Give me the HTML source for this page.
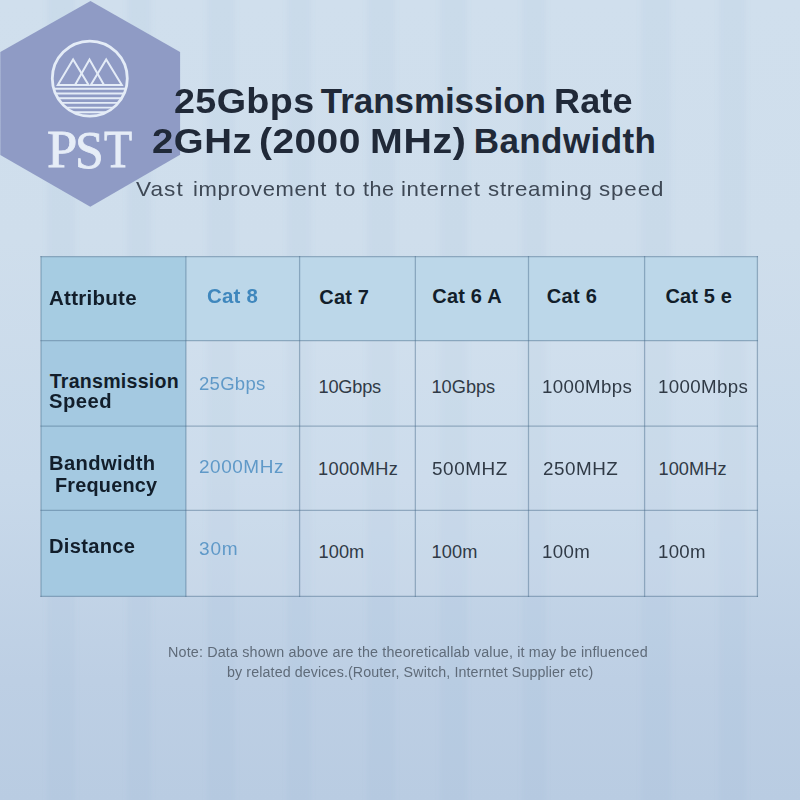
<!DOCTYPE html>
<html>
<head>
<meta charset="utf-8">
<title>25Gbps Transmission Rate</title>
<style>
html,body{margin:0;padding:0;}
body{width:800px;height:800px;overflow:hidden;position:relative;font-family:"Liberation Sans",sans-serif;background:#c8d9ea;}
#bg{position:absolute;left:0;top:0;width:800px;height:800px;
 background:linear-gradient(180deg,#d0dfed 0%,#cfdeec 30%,#c8d9ea 60%,#bdcfe4 85%,#b9cce2 100%);}
.t{position:absolute;white-space:nowrap;line-height:1;transform-origin:0 0;}
.ti{font-weight:bold;color:#202938;}
.su{color:#3e4855;}
.cell{position:absolute;}
.ln{position:absolute;background:#93a7ba;}
.h{font-weight:bold;color:#121e2b;}
.hb{font-weight:bold;color:#3f87bd;}
.v{color:#303a46;}
.vb{color:#5f99c8;}
.note{color:#5f6b79;}
.pst{font-family:'Liberation Serif',serif;color:#e6edf7;-webkit-text-stroke:0.8px #e6edf7;}
</style>
</head>
<body>
<div id="bg"></div>
<svg id="stripes" style="position:absolute;left:0;top:0" width="800" height="800" viewBox="0 0 800 800"><defs><filter id="bl" x="-5%" y="-5%" width="110%" height="110%"><feGaussianBlur stdDeviation="2.5 0"/></filter></defs><g fill="#7aa5cc" fill-opacity="0.075" filter="url(#bl)"><rect x="47" y="0" width="28" height="800"/><rect x="127" y="0" width="24" height="800"/><rect x="207" y="0" width="28" height="800"/><rect x="287" y="0" width="24" height="800"/><rect x="367" y="0" width="28" height="800"/><rect x="440" y="0" width="27" height="800"/><rect x="522" y="0" width="24" height="800"/><rect x="641" y="0" width="30" height="800"/><rect x="719" y="0" width="27" height="800"/></g></svg>

<!-- logo -->
<svg id="logo" style="position:absolute;left:0;top:0" width="200" height="220" viewBox="0 0 200 220">
  <polygon points="90.5,1.1 180.1,52 180.1,154.8 90.3,206.8 0.3,155 0.3,52" fill="#8f9bc5"/>
  <defs><clipPath id="cc"><circle cx="89.8" cy="78.6" r="37"/></clipPath></defs>
  <circle cx="89.8" cy="78.6" r="37.5" fill="none" stroke="#e4ecf7" stroke-width="2.8"/>
  <g fill="none" stroke="#e4ecf7" stroke-width="2" stroke-linejoin="miter">
    <polygon points="57.8,85 73.1,59.5 88.6,85"/>
    <polygon points="90.8,85 106.2,59.5 121.8,85"/>
    <polyline points="75,85 89.5,59.5 104,85"/>
  </g>
  <g clip-path="url(#cc)" stroke="#e4ecf7" stroke-width="1.9">
    <line x1="40" x2="140" y1="88.8" y2="88.8"/>
    <line x1="40" x2="140" y1="93.5" y2="93.5"/>
    <line x1="40" x2="140" y1="98.2" y2="98.2"/>
    <line x1="40" x2="140" y1="102.9" y2="102.9"/>
    <line x1="40" x2="140" y1="107.6" y2="107.6"/>
    <line x1="40" x2="140" y1="112.3" y2="112.3"/>
  </g>
</svg>

<!-- table -->
<svg id="grid" style="position:absolute;left:0;top:0" width="800" height="800" viewBox="0 0 800 800">
<rect x="41.0" y="256.6" width="144.90" height="84.10" fill="#a6cce2"/>
<rect x="185.9" y="256.6" width="571.50" height="84.10" fill="#bcd7e9"/>
<rect x="41.0" y="340.7" width="144.90" height="255.70" fill="#a4c9e1"/>
<rect x="185.9" y="340.7" width="571.50" height="255.70" fill="#e3ecf6" fill-opacity="0.2"/>
<g stroke="#486a8a" stroke-opacity="0.45" stroke-width="1.25">
<line x1="41.0" x2="41.0" y1="256.0" y2="597.0"/>
<line x1="185.9" x2="185.9" y1="256.0" y2="597.0"/>
<line x1="299.6" x2="299.6" y1="256.0" y2="597.0"/>
<line x1="415.35" x2="415.35" y1="256.0" y2="597.0"/>
<line x1="528.5" x2="528.5" y1="256.0" y2="597.0"/>
<line x1="644.6" x2="644.6" y1="256.0" y2="597.0"/>
<line x1="757.4" x2="757.4" y1="256.0" y2="597.0"/>
<line x1="40.4" x2="758.0" y1="256.6" y2="256.6"/>
<line x1="40.4" x2="758.0" y1="340.7" y2="340.7"/>
<line x1="40.4" x2="758.0" y1="426.0" y2="426.0"/>
<line x1="40.4" x2="758.0" y1="510.3" y2="510.3"/>
<line x1="40.4" x2="758.0" y1="596.4" y2="596.4"/>
</g></svg>

<div class="t pst" style="left:46.76px;top:123.11px;font-size:53px;letter-spacing:0px;transform:scaleX(1.029);">P</div>
<div class="t pst" style="left:75.48px;top:123.51px;font-size:53px;letter-spacing:0px;transform:scaleX(0.976);">S</div>
<div class="t pst" style="left:104.33px;top:123.11px;font-size:53px;letter-spacing:0px;transform:scaleX(0.869);">T</div>
<div class="t ti" style="left:174.4px;top:82.87px;font-size:35px;letter-spacing:0.34px;transform:scaleX(1.077);">25Gbps</div>
<div class="t ti" style="left:320.75px;top:82.87px;font-size:35px;letter-spacing:-0.05px;">Transmission</div>
<div class="t ti" style="left:553.93px;top:82.87px;font-size:35px;letter-spacing:0.13px;transform:scaleX(1.029);">Rate</div>
<div class="t ti" style="left:151.63px;top:123.12px;font-size:35px;letter-spacing:0.47px;transform:scaleX(1.097);">2GHz</div>
<div class="t ti" style="left:259.05px;top:123.12px;font-size:35px;letter-spacing:0.41px;transform:scaleX(1.112);">(2000</div>
<div class="t ti" style="left:369.97px;top:123.12px;font-size:35px;letter-spacing:0.56px;transform:scaleX(1.124);">MHz)</div>
<div class="t ti" style="left:473.75px;top:123.12px;font-size:35px;letter-spacing:0.41px;">Bandwidth</div>
<div class="t su" style="left:136.48px;top:177.62px;font-size:21px;letter-spacing:1.01px;transform:scaleX(1.075);">Vast</div>
<div class="t su" style="left:192.53px;top:177.62px;font-size:21px;letter-spacing:0.58px;transform:scaleX(1.048);">improvement</div>
<div class="t su" style="left:334.93px;top:177.62px;font-size:21px;letter-spacing:1.41px;transform:scaleX(1.087);">to</div>
<div class="t su" style="left:362.64px;top:177.62px;font-size:21px;letter-spacing:0.42px;transform:scaleX(1.03);">the</div>
<div class="t su" style="left:401.11px;top:177.62px;font-size:21px;letter-spacing:0.6px;transform:scaleX(1.062);">internet</div>
<div class="t su" style="left:487.8px;top:177.62px;font-size:21px;letter-spacing:0.7px;transform:scaleX(1.061);">streaming</div>
<div class="t su" style="left:598.7px;top:177.62px;font-size:21px;letter-spacing:0.85px;transform:scaleX(1.062);">speed</div>
<div class="t h" style="left:48.74px;top:287.57px;font-size:20px;letter-spacing:0.26px;transform:scaleX(1.026);">Attribute</div>
<div class="t hb" style="left:206.73px;top:286.47px;font-size:20px;letter-spacing:0.25px;transform:scaleX(1.021);">Cat 8</div>
<div class="t h" style="left:319.25px;top:286.57px;font-size:20px;letter-spacing:0.19px;">Cat 7</div>
<div class="t h" style="left:432.25px;top:286.47px;font-size:20px;letter-spacing:0.21px;">Cat 6 A</div>
<div class="t h" style="left:546.75px;top:286.47px;font-size:20px;letter-spacing:0.31px;">Cat 6</div>
<div class="t h" style="left:665.5px;top:286.47px;font-size:20px;letter-spacing:0.12px;">Cat 5 e</div>
<div class="t h" style="left:49.75px;top:371.66px;font-size:19.6px;letter-spacing:0.23px;">Transmission</div>
<div class="t h" style="left:49.48px;top:392.16px;font-size:19.6px;letter-spacing:0.47px;transform:scaleX(1.032);">Speed</div>
<div class="t vb" style="left:198.98px;top:374.59px;font-size:18.2px;letter-spacing:0.25px;transform:scaleX(1.02);">25Gbps</div>
<div class="t v" style="left:318.5px;top:377.59px;font-size:18.2px;letter-spacing:-0.2px;">10Gbps</div>
<div class="t v" style="left:431.5px;top:377.59px;font-size:18.2px;letter-spacing:0.0px;">10Gbps</div>
<div class="t v" style="left:542.21px;top:377.59px;font-size:18.2px;letter-spacing:0.34px;transform:scaleX(1.028);">1000Mbps</div>
<div class="t v" style="left:657.96px;top:377.59px;font-size:18.2px;letter-spacing:0.34px;transform:scaleX(1.028);">1000Mbps</div>
<div class="t h" style="left:48.71px;top:454.16px;font-size:19.6px;letter-spacing:0.37px;transform:scaleX(1.03);">Bandwidth</div>
<div class="t h" style="left:54.98px;top:475.91px;font-size:19.6px;letter-spacing:0.19px;transform:scaleX(1.015);">Frequency</div>
<div class="t vb" style="left:198.96px;top:457.59px;font-size:18.2px;letter-spacing:0.53px;transform:scaleX(1.042);">2000MHz</div>
<div class="t v" style="left:318.0px;top:460.09px;font-size:18.2px;letter-spacing:0.33px;">1000MHz</div>
<div class="t v" style="left:432.22px;top:460.09px;font-size:18.2px;letter-spacing:0.54px;transform:scaleX(1.039);">500MHZ</div>
<div class="t v" style="left:542.71px;top:460.09px;font-size:18.2px;letter-spacing:0.49px;transform:scaleX(1.036);">250MHZ</div>
<div class="t v" style="left:658.5px;top:460.09px;font-size:18.2px;letter-spacing:0.05px;">100MHz</div>
<div class="t h" style="left:49.22px;top:537.16px;font-size:19.6px;letter-spacing:0.3px;transform:scaleX(1.026);">Distance</div>
<div class="t vb" style="left:199.21px;top:540.34px;font-size:18.2px;letter-spacing:0.8px;transform:scaleX(1.047);">30m</div>
<div class="t v" style="left:318.5px;top:543.19px;font-size:18.2px;letter-spacing:0.08px;">100m</div>
<div class="t v" style="left:431.5px;top:543.19px;font-size:18.2px;letter-spacing:0.17px;">100m</div>
<div class="t v" style="left:542.21px;top:543.19px;font-size:18.2px;letter-spacing:0.37px;transform:scaleX(1.026);">100m</div>
<div class="t v" style="left:657.72px;top:543.19px;font-size:18.2px;letter-spacing:0.33px;transform:scaleX(1.023);">100m</div>
<div class="t note" style="left:168.47px;top:645.15px;font-size:14px;letter-spacing:0.15px;transform:scaleX(1.024);">Note: Data shown above are the theoreticallab value, it may be influenced</div>
<div class="t note" style="left:226.98px;top:665.15px;font-size:14px;letter-spacing:0.11px;transform:scaleX(1.018);">by related devices.(Router, Switch, Interntet Supplier etc)</div>

</body>
</html>
